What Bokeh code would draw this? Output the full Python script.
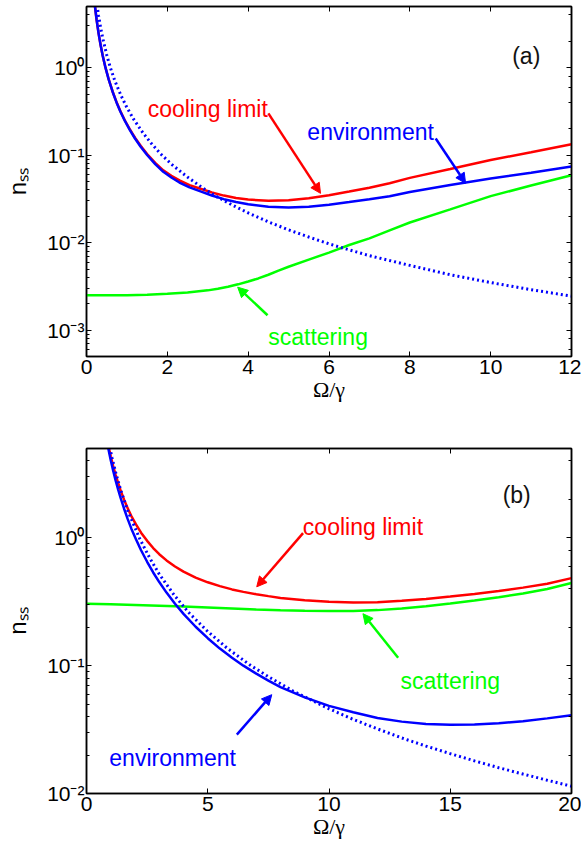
from bokeh.plotting import figure
from bokeh.layouts import column
from bokeh.models import (Range1d, FixedTicker, LinearAxis, LogAxis, LogTicker,
                          CustomJSTickFormatter, Label, Arrow, NormalHead)
from bokeh.embed import file_html
from bokeh.resources import INLINE

# ---------------- data: panel (a) ----------------
xa_env = [0.21, 0.25, 0.3, 0.35, 0.4, 0.47, 0.55, 0.65, 0.75, 0.84, 0.95, 1.07, 1.2, 1.34,
          1.5, 1.7, 1.9, 2.1, 2.3, 2.55, 2.82, 3.1, 3.4, 3.7, 4.0, 4.5, 5.0, 5.5, 6.0, 6.5,
          7.0, 7.5, 8.0, 9.0, 10.0, 11.0, 12.0]
env_a = [5.0, 3.53, 2.45, 1.80, 1.38, 1.0, 0.73, 0.524, 0.393, 0.314, 0.246, 0.195, 0.155,
         0.125, 0.1005, 0.079, 0.0645, 0.0555, 0.0487, 0.0428, 0.0385, 0.0346, 0.0314,
         0.0292, 0.0275, 0.0258, 0.0252, 0.0258, 0.0272, 0.0291, 0.0313, 0.0339, 0.038,
         0.0455, 0.054, 0.063, 0.074]
cool_a = [5.0, 3.53, 2.45, 1.80, 1.38, 1.0, 0.733, 0.527, 0.396, 0.317, 0.249, 0.198, 0.158,
          0.128, 0.103, 0.0816, 0.0671, 0.0581, 0.0514, 0.0455, 0.0413, 0.0375, 0.0345,
          0.0324, 0.0311, 0.0301, 0.0305, 0.0322, 0.0349, 0.0385, 0.0425, 0.0477, 0.055,
          0.0695, 0.088, 0.108, 0.133]
xg_a = [0, 0.5, 1.0, 1.5, 2.0, 2.5, 3.0, 3.25, 3.5, 3.75, 4.0, 4.25, 4.5, 4.75, 5.0, 5.5, 6.0,
        6.5, 7.0, 7.5, 8.0, 9.0, 10.0, 11.0, 12.0]
scat_a = [0.0025, 0.0025, 0.00251, 0.00254, 0.0026, 0.0027, 0.00285, 0.00297, 0.00313,
          0.00334, 0.0036, 0.0039, 0.0043, 0.0048, 0.0053, 0.0064, 0.0077, 0.0094, 0.0112,
          0.0138, 0.017, 0.024, 0.034, 0.045, 0.059]
xd_a = [0.26, 0.3, 0.35, 0.4, 0.5, 0.59, 0.7, 0.85, 1.0, 1.17, 1.4, 1.6, 1.83, 2.1, 2.49, 2.85,
        3.2, 3.6, 4.0, 4.5, 5.0, 5.5, 6.0, 6.3, 7.0, 8.0, 9.0, 10.0, 11.0, 12.0]
dot_a = [5.2, 3.9, 2.86, 2.19, 1.4, 1.0, 0.71, 0.485, 0.35, 0.256, 0.179, 0.137, 0.104, 0.079,
         0.0565, 0.043, 0.034, 0.027, 0.0219, 0.0173, 0.014, 0.0116, 0.0097, 0.0088, 0.0071,
         0.0055, 0.0043, 0.0035, 0.0029, 0.00245]
xticks_a = [0, 2, 4, 6, 8, 10, 12]

# ---------------- data: panel (b) ----------------
xe_b = [0.85, 0.9, 0.95, 1.0, 1.1, 1.2, 1.3, 1.4, 1.55, 1.7, 1.85, 2.04, 2.25, 2.5, 2.75, 3.0,
        3.3, 3.65, 4.0, 4.5, 5.0, 5.5, 6.0, 6.47, 7.0, 7.5, 8.0, 9.0, 10, 11, 12, 13, 14, 15,
        16, 17, 18, 19, 20]
env_b = [5.6, 5.0, 4.49, 4.05, 3.35, 2.81, 2.40, 2.07, 1.69, 1.40, 1.18, 0.975, 0.80, 0.65,
         0.536, 0.451, 0.373, 0.305, 0.254, 0.2016, 0.164, 0.136, 0.1154, 0.100, 0.0866,
         0.0765, 0.068, 0.0565, 0.0485, 0.0432, 0.039, 0.0365, 0.035, 0.0345, 0.0347, 0.0355,
         0.0368, 0.0387, 0.041]
cool_b = [5.9, 5.3, 4.79, 4.35, 3.65, 3.11, 2.70, 2.37, 1.99, 1.70, 1.48, 1.273, 1.097, 0.947,
          0.832, 0.745, 0.666, 0.597, 0.544, 0.489, 0.449, 0.419, 0.395, 0.378, 0.362, 0.35,
          0.339, 0.325, 0.316, 0.312, 0.313, 0.322, 0.332, 0.347, 0.364, 0.384, 0.408, 0.438,
          0.484]
xg_b = [0, 1, 2, 3, 4, 5, 6, 7, 8, 9, 10, 11, 12, 13, 14, 15, 16, 17, 18, 19, 20]
scat_b = [0.305, 0.302, 0.298, 0.294, 0.29, 0.285, 0.28, 0.275, 0.271, 0.269, 0.268, 0.268,
          0.272, 0.28, 0.292, 0.306, 0.323, 0.343, 0.367, 0.398, 0.443]
xd_b = [0.96, 1.05, 1.2, 1.4, 1.7, 2.2, 2.6, 3.0, 3.6, 4.2, 5.0, 5.8, 6.75, 7.5, 8.5, 10, 11,
        12, 13, 14, 15, 16, 17, 18, 19, 20]
dot_b = [5.1, 4.25, 3.26, 2.4, 1.63, 0.98, 0.70, 0.52, 0.36, 0.262, 0.185, 0.137, 0.101, 0.082,
         0.0636, 0.046, 0.038, 0.032, 0.0272, 0.0235, 0.0205, 0.018, 0.0159, 0.0142, 0.0127,
         0.0114]
xticks_b = [0, 5, 10, 15, 20]

FONT = "Liberation Sans"
SERIF = "Liberation Serif"
RED, GREEN, BLUE = "#ff0000", "#00ff00", "#0000ff"

SUP_CODE = """
const e = Math.round(Math.log10(tick));
const m = {'0':'\u2070','1':'\u00b9','2':'\u00b2','3':'\u00b3','4':'\u2074','-':'\u207b'};
let s = '';
for (const c of String(e)) { s += m[c]; }
return '10' + s;
"""
BLANK_CODE = "return '';"


def make_panel(xmax, ymin, ymax, xticks, fh, btop, bbot):
    p = figure(frame_width=485, frame_height=fh,
               x_range=Range1d(0, xmax), y_range=Range1d(ymin, ymax),
               y_axis_type="log", output_backend="svg", toolbar_location=None,
               min_border_left=86, min_border_right=10,
               min_border_top=btop, min_border_bottom=bbot)
    p.grid.visible = False
    p.outline_line_color = "black"
    p.outline_line_width = 1.5
    p.background_fill_color = "white"
    p.border_fill_color = "white"

    xa = p.xaxis[0]
    xa.ticker = FixedTicker(ticks=xticks)
    xa.major_tick_in = 5
    xa.major_tick_out = 0
    xa.minor_tick_line_color = None
    xa.axis_line_width = 1.5
    xa.major_label_text_font = FONT
    xa.major_label_text_font_size = "21px"
    xa.major_label_text_color = "black"
    xa.major_label_standoff = 3
    xa.axis_label = "\u03a9/\u03b3"
    xa.axis_label_text_font = SERIF
    xa.axis_label_text_font_size = "22px"
    xa.axis_label_text_font_style = "normal"
    xa.axis_label_text_color = "black"
    xa.axis_label_standoff = 0

    ya = p.yaxis[0]
    ya.major_tick_in = 5
    ya.major_tick_out = 0
    ya.minor_tick_in = 3
    ya.minor_tick_out = 0
    ya.axis_line_width = 1.5
    ya.formatter = CustomJSTickFormatter(code=SUP_CODE)
    ya.major_label_text_font = FONT
    ya.major_label_text_font_size = "21px"
    ya.major_label_text_color = "black"
    ya.major_label_standoff = 2
    ya.axis_label = "n\u209b\u209b"
    ya.axis_label_text_font = FONT
    ya.axis_label_text_font_size = "24px"
    ya.axis_label_text_font_style = "normal"
    ya.axis_label_text_color = "black"
    ya.axis_label_standoff = 13

    top = LinearAxis(ticker=FixedTicker(ticks=xticks), major_tick_in=5, major_tick_out=0,
                     minor_tick_line_color=None, axis_line_width=1.5,
                     formatter=CustomJSTickFormatter(code=BLANK_CODE),
                     major_label_text_font_size="2px", major_label_text_color=None,
                     major_label_standoff=0)
    p.add_layout(top, "above")
    right = LogAxis(ticker=LogTicker(), major_tick_in=5, major_tick_out=0,
                    minor_tick_in=3, minor_tick_out=0, axis_line_width=1.5,
                    formatter=CustomJSTickFormatter(code=BLANK_CODE),
                    major_label_text_font_size="2px", major_label_text_color=None,
                    major_label_standoff=0)
    p.add_layout(right, "right")
    return p


def arrow(p, color, x0, y0, x1, y1):
    p.add_layout(Arrow(end=NormalHead(size=10, fill_color=color, line_color=color, line_width=1),
                       x_start=x0, y_start=y0, x_end=x1, y_end=y1,
                       line_color=color, line_width=2.5))


def label(p, text, x, y, color, size="23px"):
    p.add_layout(Label(x=x, y=y, text=text, text_color=color, text_font=FONT,
                       text_font_size=size, text_align="center", text_baseline="alphabetic"))


# ---------------- panel (a) ----------------
pa = make_panel(12, 5e-4, 5, xticks_a, 350, 6, 52)
pa.line(xa_env, cool_a, line_color=RED, line_width=2.5)
pa.line(xg_a, scat_a, line_color=GREEN, line_width=2.5)
pa.line(xa_env, env_a, line_color=BLUE, line_width=2.5)
pa.line(xd_a, dot_a, line_color=BLUE, line_width=3, line_dash="2 3")

label(pa, "cooling limit", 3.0, 0.338, RED)
label(pa, "environment", 7.03, 0.183, BLUE)
label(pa, "scattering", 5.73, 8.4e-4, GREEN)
label(pa, "(a)", 10.88, 1.36, "#111111")
arrow(pa, RED, 4.5, 0.30, 5.79, 0.0366)
arrow(pa, BLUE, 8.64, 0.155, 9.38, 0.0477)
arrow(pa, GREEN, 4.48, 1.48e-3, 3.74, 3.1e-3)

# ---------------- panel (b) ----------------
pb = make_panel(20, 1e-2, 5, xticks_b, 345, 40, 52)
pb.line(xe_b, cool_b, line_color=RED, line_width=2.5)
pb.line(xg_b, scat_b, line_color=GREEN, line_width=2.5)
pb.line(xe_b, env_b, line_color=BLUE, line_width=2.5)
pb.line(xd_b, dot_b, line_color=BLUE, line_width=3, line_dash="2 3")

label(pb, "cooling limit", 11.4, 1.225, RED)
label(pb, "scattering", 15.0, 0.0754, GREEN)
label(pb, "environment", 3.55, 0.019, BLUE)
label(pb, "(b)", 17.74, 2.16, "#111111")
arrow(pb, RED, 8.93, 1.09, 7.02, 0.414)
arrow(pb, GREEN, 12.85, 0.1155, 11.4, 0.255)
arrow(pb, BLUE, 6.2, 0.0289, 7.64, 0.0593)

layout = column(pa, pb)
open("out.html", "w").write(file_html(layout, INLINE))
